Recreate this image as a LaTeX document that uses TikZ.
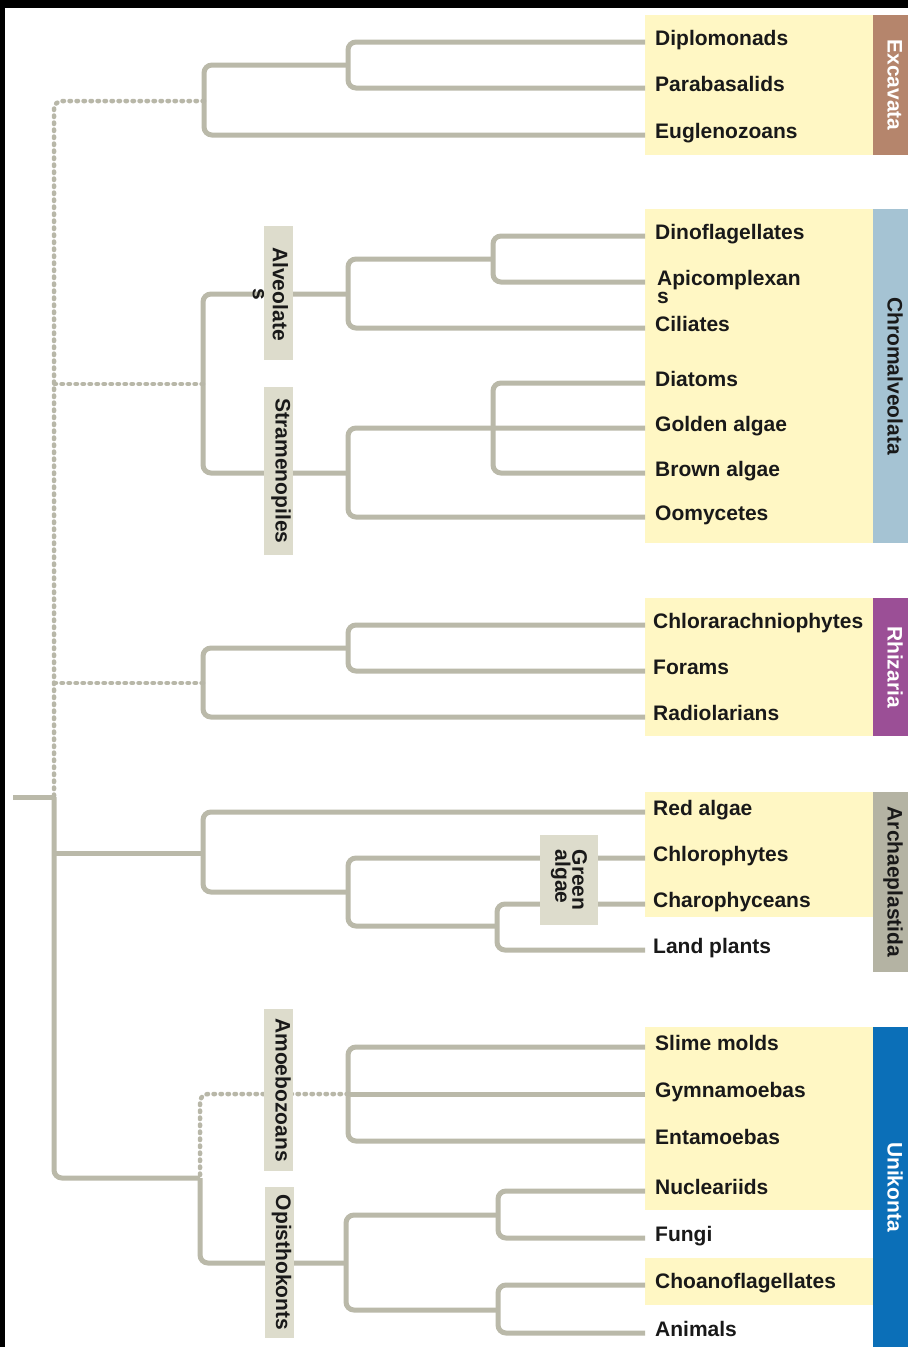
\documentclass[tikz,border=0pt]{standalone}
\usepackage{fontspec}
\setmainfont{Liberation Sans}
\usetikzlibrary{calc}

\definecolor{treegray}{HTML}{BAB9A9}
\definecolor{dotgray}{HTML}{B8B7A8}
\definecolor{leafyellow}{HTML}{FFF7C4}
\definecolor{cladegray}{HTML}{DDDCCC}
\definecolor{excavbar}{HTML}{B5856C}
\definecolor{chromobar}{HTML}{A5C3D3}
\definecolor{rhizbar}{HTML}{9B4F96}
\definecolor{archbar}{HTML}{B4B3A3}
\definecolor{unibar}{HTML}{0B6FB8}

\begin{document}
\begin{tikzpicture}[
    x=1pt, y=-1pt,
    leaf/.style={anchor=west, inner xsep=10pt, inner ysep=0pt, text height=13pt, text depth=7pt, text=black!90, font=\fontsize{21}{18}\selectfont\bfseries},
    branch/.style={draw=treegray, line width=5pt, rounded corners=8pt},
    dotbranch/.style={draw=dotgray, line width=4.5pt, dash pattern=on 1.5pt off 5.5pt, line cap=round, rounded corners=8pt},
    cladefill/.style={rectangle, fill=cladegray, rotate=-90, inner sep=0pt, text=black!90, font=\fontsize{21}{17}\selectfont\bfseries},
    clade/.style={cladefill, minimum height=29pt, text height=14pt, text depth=8pt},
    group/.style={rectangle, rotate=-90, inner sep=0pt, minimum height=35pt, text height=14pt, text depth=8pt, text=white, font=\fontsize{21}{20}\selectfont\bfseries}
]

% Frame
\fill[black] (0,0) rectangle (908,1347);
\fill[white] (5,8) rectangle (908,1347);
\useasboundingbox (0,0) rectangle (908,1347);

% Yellow backgrounds
\fill[leafyellow] (645,15) rectangle (873,155);
\fill[leafyellow] (645,209) rectangle (873,543);
\fill[leafyellow] (645,598) rectangle (873,736);
\fill[leafyellow] (645,792) rectangle (873,917);
\fill[leafyellow] (645,1027) rectangle (873,1210);
\fill[leafyellow] (645,1258) rectangle (873,1305);

% Group bars
\node[group, fill=excavbar, minimum width=140pt] (excavata) at (890.5,85) {Excavata};
\node[group, fill=chromobar, minimum width=334pt, text=black!90] (chromalveolata) at (890.5,376) {Chromalveolata};
\node[group, fill=rhizbar, minimum width=138pt] (rhizaria) at (890.5,667) {Rhizaria};
\node[group, fill=archbar, minimum width=180pt, text=black!90] (archaeplastida) at (890.5,882) {Archaeplastida};
\node[group, fill=unibar, minimum width=320pt] (unikonta) at (890.5,1187) {Unikonta};

% Leaves
\node[leaf] (diplo) at (645,42) {Diplomonads};
\node[leaf] (para) at (645,88) {Parabasalids};
\node[leaf] (eugl) at (645,135) {Euglenozoans};

\node[leaf] (dino) at (645,236) {Dinoflagellates};
\node[leaf, inner xsep=12pt] (apic) at (645,282) {\vtop{\baselineskip=18pt\hbox{Apicomplexan}\hbox{s}}};
\node[leaf] (cili) at (645,328) {Ciliates};
\node[leaf] (diat) at (645,383) {Diatoms};
\node[leaf] (gold) at (645,428) {Golden algae};
\node[leaf] (brown) at (645,473) {Brown algae};
\node[leaf] (oomy) at (645,517) {Oomycetes};

\node[leaf, inner xsep=8pt] (chlo) at (645,625) {Chlorarachniophytes};
\node[leaf, inner xsep=8pt] (fora) at (645,671) {Forams};
\node[leaf, inner xsep=8pt] (radi) at (645,717) {Radiolarians};

\node[leaf, inner xsep=8pt] (red) at (645,812) {Red algae};
\node[leaf, inner xsep=8pt] (chlp) at (645,858) {Chlorophytes};
\node[leaf, inner xsep=8pt] (char) at (645,904) {Charophyceans};
\node[leaf, inner xsep=8pt] (land) at (645,950) {Land plants};

\node[leaf] (slim) at (645,1047) {Slime molds};
\node[leaf] (gymn) at (645,1094) {Gymnamoebas};
\node[leaf] (enta) at (645,1141) {Entamoebas};
\node[leaf] (nucl) at (645,1191) {Nucleariids};
\node[leaf] (fung) at (645,1238) {Fungi};
\node[leaf] (choa) at (645,1285) {Choanoflagellates};
\node[leaf] (anim) at (645,1333) {Animals};

% Internal nodes
\coordinate (root) at (54,797);
\coordinate (rootend) at (13,797);
\coordinate (e1) at (348,65);
\coordinate (e2) at (204,101);
\coordinate (a1) at (493,259);
\coordinate (a2) at (348,294);
\coordinate (s1) at (493,428);
\coordinate (s2) at (348,473);
\coordinate (c0) at (203,384);
\coordinate (rz1) at (348,648);
\coordinate (rz0) at (203,683);
\coordinate (ar2) at (497,926);
\coordinate (ar1) at (348,892);
\coordinate (ar0) at (203,853);
\coordinate (am1) at (348,1094);
\coordinate (op2) at (498,1215);
\coordinate (op3) at (498,1310);
\coordinate (op1) at (346,1263);
\coordinate (u0) at (200,1178);

% Excavata
\draw[branch] (diplo.west) -| (e1) |- (para.west);
\draw[branch] (e1) -| (e2) |- (eugl.west);
\draw[dotbranch] (e2) -| (root);

% Chromalveolata
\draw[branch] (dino.west) -| (a1) |- (apic.west);
\draw[branch] (a1) -| (a2) |- (cili.west);
\draw[branch] (diat.west) -| (s1) |- (brown.west);
\draw[branch] (gold.west) -| (s2) |- (oomy.west);
\draw[branch] (a2) -| (c0) |- (s2);
\draw[dotbranch] (c0) -- (c0 -| root);

% Rhizaria
\draw[branch] (chlo.west) -| (rz1) |- (fora.west);
\draw[branch] (rz1) -| (rz0) |- (radi.west);
\draw[dotbranch] (rz0) -- (rz0 -| root);

% Archaeplastida
\draw[branch] (char.west) -| (ar2) |- (land.west);
\draw[branch] (chlp.west) -| (ar1) |- (ar2);
\draw[branch] (red.west) -| (ar0) |- (ar1);
\draw[branch] (ar0) -- (ar0 -| root);

% Unikonta
\draw[branch] (slim.west) -| (am1) |- (enta.west);
\draw[branch] (gymn.west) -- (am1);
\draw[branch] (nucl.west) -| (op2) |- (fung.west);
\draw[branch] (choa.west) -| (op3) |- (anim.west);
\draw[branch] (op2) -| (op1) |- (op3);
\draw[branch] (op1) -| (u0);
\draw[dotbranch] (am1) -| (u0);

% Root
\draw[branch] (rootend) -- (root);
\draw[branch] (root) |- (u0);

% Clade labels
\node[clade, minimum width=134pt] (alvbox) at (278.5,293) {};
\node[rotate=-90, align=center, inner sep=0pt, text=black!90, font=\fontsize{21}{20}\selectfont\bfseries] (alv) at (270.5,294) {Alveolate\\s};
\node[clade, minimum width=168pt] (stram) at (278.5,471) {Stramenopiles};
\node[cladefill, minimum width=90pt, minimum height=58pt, align=left] (green) at (569,880) {Green\\algae};
\node[clade, minimum width=162pt] (amoe) at (278.5,1090) {Amoebozoans};
\node[clade, minimum width=151pt] (opis) at (279,1262.5) {Opisthokonts};

\end{tikzpicture}
\end{document}
